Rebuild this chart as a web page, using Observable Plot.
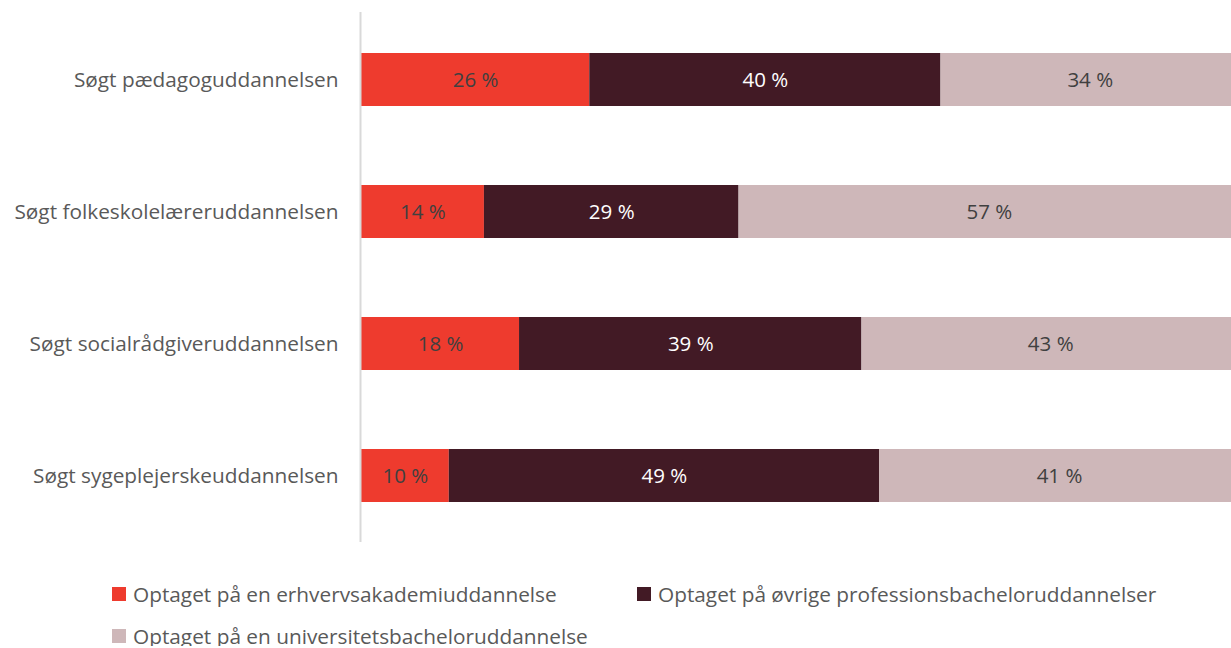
<!DOCTYPE html>
<html><head><meta charset="utf-8">
<script src="https://cdn.jsdelivr.net/npm/d3@7"></script>
<script src="https://cdn.jsdelivr.net/npm/@observablehq/plot@0.6"></script>
<style>
body{margin:0;background:#fff;font-family:"Open Sans",sans-serif;overflow:hidden;}
#legend{position:relative;height:90px;font-size:20.8px;color:#595959;}
.item{position:absolute;display:flex;align-items:center;white-space:nowrap;}
.sw{width:14px;height:14px;margin-right:7px;display:inline-block;}
</style></head>
<body>
<div id="chart"></div>
<div id="legend"></div>
<script>
const categories = ["Søgt pædagoguddannelsen","Søgt folkeskolelæreruddannelsen","Søgt socialrådgiveruddannelsen","Søgt sygeplejerskeuddannelsen"];
const seriesNames = ["Optaget på en erhvervsakademiuddannelse","Optaget på øvrige professionsbacheloruddannelser","Optaget på en universitetsbacheloruddannelse"];
const erhvervsakademi = [26,14,18,10];
const professionsbachelor = [40,29,39,49];
const universitetsbachelor = [34,57,43,41];
const colors = ["#EE3B2E","#421A25","#CEB7B9"];
const textColors = ["#404040","#ffffff","#404040"];

const seriesValues = [erhvervsakademi, professionsbachelor, universitetsbachelor];
const data = [];
seriesNames.forEach((s,si)=>categories.forEach((c,ci)=>data.push({cat:c,series:s,si,value:seriesValues[si][ci]})));

const chart = Plot.plot({
  width:1231, height:556,
  marginLeft:361, marginRight:0, marginTop:12, marginBottom:14,
  style:{fontFamily:"'Open Sans', sans-serif", background:"#fff", overflow:"hidden"},
  x:{domain:[0,100], range:[361,1239], axis:null},
  y:{domain:categories, paddingInner:0.6, paddingOuter:0.3, label:null},
  color:{domain:seriesNames, range:colors},
  marks:[
    Plot.barX(data, Plot.stackX({x:"value", y:"cat", fill:"series", order:seriesNames})),
    Plot.textX(data, Plot.stackX({x:"value", y:"cat", z:"series", order:seriesNames, text:d=>d.value+" %", fill:d=>textColors[d.si], fontSize:20.5})),
    Plot.ruleX([0], {stroke:"#d9d9d9", strokeWidth:2, dx:-1}),
    Plot.axisY({tickSize:0, tickPadding:23, fontSize:20.8, fill:"#595959", label:null})
  ]
});
chart.querySelectorAll("text").forEach(t=>{ if(t.getAttribute("fill")==="currentColor") t.setAttribute("fill","#595959"); });
document.getElementById("chart").appendChild(chart);

const legend = document.getElementById("legend");
const pos = [[112,24],[637,24],[112,66]];
seriesNames.forEach((s,i)=>{
  const d=document.createElement("div"); d.className="item";
  d.style.left=pos[i][0]+"px"; d.style.top=pos[i][1]+"px";
  d.innerHTML=`<span class="sw" style="background:${colors[i]}"></span><span>${s}</span>`;
  legend.appendChild(d);
});
</script>
</body></html>
